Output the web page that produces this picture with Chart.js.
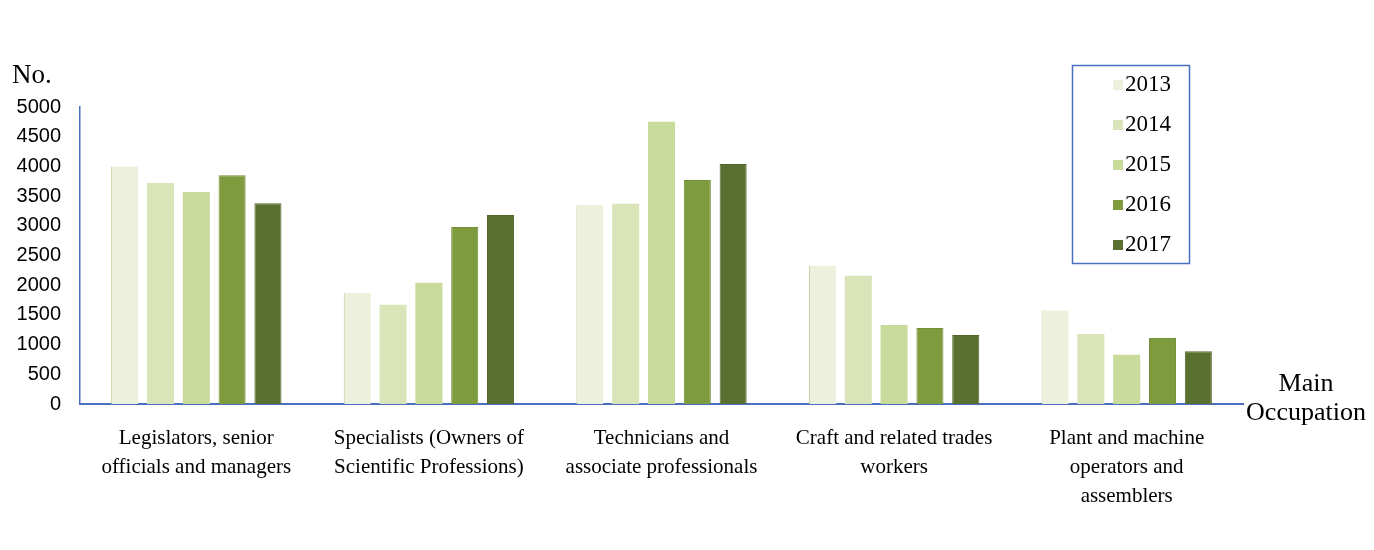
<!DOCTYPE html>
<html>
<head>
<meta charset="utf-8">
<script src="https://cdn.jsdelivr.net/npm/chart.js@4.4.0/dist/chart.umd.min.js"></script>
<style>
  html, body { margin: 0; padding: 0; background: #fff; }
  #wrap { width: 1374px; height: 550px; position: relative; }
</style>
</head>
<body>
<div id="wrap"><canvas id="occChart" width="1374" height="550"></canvas></div>
<script>
// categories (multi-line labels as in the picture)
var occupations = [
    ["Legislators, senior", "officials and managers"],
    ["Specialists (Owners of", "Scientific Professions)"],
    ["Technicians and", "associate professionals"],
    ["Craft and related trades", "workers"],
    ["Plant and machine", "operators and", "assemblers"]
];
var years = ["2013", "2014", "2015", "2016", "2017"];

// values, one array per year
var v2013 = [4000, 1870, 3350, 2330, 1580];
var v2014 = [3720, 1670, 3370, 2160, 1180];
var v2015 = [3570, 2040, 4750, 1330, 830];
var v2016 = [3850, 2980, 3770, 1280, 1110];
var v2017 = [3380, 3180, 4040, 1160, 890];

var yTicks = [0, 500, 1000, 1500, 2000, 2500, 3000, 3500, 4000, 4500, 5000];

var fills = ['#ecf0dc', '#d9e4b9', '#c8db9b', '#7e9c3e', '#5a7030'];
var edges = ['#c4cc98', '#d0dcae', '#c0d490', '#738f37', '#52672b'];
var axisBlue = '#4a6fc0';

// legend box + axis titles drawn by hand, the way the picture has them
var extras = {
    id: 'extras',
    afterDraw: function(chart) {
        var ctx = chart.ctx;
        ctx.save();
        // "No." and "Main Occupation"
        ctx.fillStyle = '#000';
        ctx.font = '27px "Liberation Serif"';
        ctx.textBaseline = 'middle';
        ctx.textAlign = 'left';
        ctx.fillText('No.', 12, 76);
        ctx.font = '26px "Liberation Serif"';
        ctx.textAlign = 'center';
        ctx.fillText('Main', 1306, 384);
        ctx.fillText('Occupation', 1306, 413);

        // legend
        ctx.strokeStyle = axisBlue;
        ctx.lineWidth = 1.5;
        ctx.strokeRect(1072.5, 65.5, 117, 198);
        ctx.font = '23px "Liberation Serif"';
        ctx.textAlign = 'left';
        chart.data.datasets.forEach(function(ds, i) {
            var y = 85 + i * 40;
            ctx.fillStyle = ds.backgroundColor;
            ctx.fillRect(1113, y - 5, 10, 10);
            ctx.fillStyle = '#000';
            ctx.fillText(ds.label, 1125, y);
        });
        ctx.restore();
    }
};

var ctx = document.getElementById('occChart').getContext('2d');
var chart = new Chart(ctx, {
    type: 'bar',
    data: {
        labels: occupations,
        datasets: [
            { label: years[0], data: v2013, backgroundColor: fills[0], borderColor: edges[0], borderWidth: {left: 1, right: 0, top: 0, bottom: 0} },
            { label: years[1], data: v2014, backgroundColor: fills[1], borderColor: edges[1], borderWidth: 0 },
            { label: years[2], data: v2015, backgroundColor: fills[2], borderColor: edges[2], borderWidth: 0 },
            { label: years[3], data: v2016, backgroundColor: fills[3], borderColor: edges[3], borderWidth: 1 },
            { label: years[4], data: v2017, backgroundColor: fills[4], borderColor: edges[4], borderWidth: 1 }
        ]
    },
    options: {
        responsive: false,
        animation: false,
        layout: { padding: { left: 0, right: 131, top: 107, bottom: 0 } },
        categoryPercentage: 0.77,
        barPercentage: 0.755,
        plugins: {
            legend: { display: false },
            tooltip: { enabled: false }
        },
        scales: {
            x: {
                grid: { display: false, drawTicks: false },
                border: { color: axisBlue, width: 2 },
                ticks: {
                    color: '#000',
                    font: { family: 'Liberation Serif', size: 21, lineHeight: 1.38 },
                    padding: 20,
                    maxRotation: 0,
                    autoSkip: false
                },
                afterFit: function(scale) { scale.height = 146; }
            },
            y: {
                min: 0,
                max: 5000,
                grid: { display: false, drawTicks: false },
                border: { color: axisBlue, width: 1.5 },
                afterBuildTicks: function(scale) {
                    scale.ticks = yTicks.map(function(v) { return { value: v }; });
                },
                ticks: {
                    color: '#000',
                    font: { family: 'Liberation Sans', size: 20 },
                    padding: 19,
                    callback: function(v) { return String(v); }
                },
                afterFit: function(scale) { scale.width = 80; }
            }
        }
    },
    plugins: [extras]
});
</script>
</body>
</html>
